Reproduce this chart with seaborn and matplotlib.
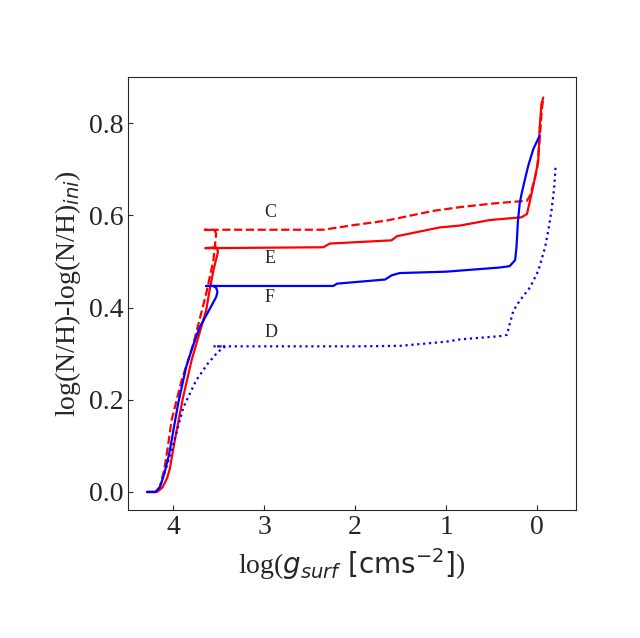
import numpy as np
import pandas as pd
import matplotlib
matplotlib.use("Agg")
import matplotlib.pyplot as plt
import seaborn as sns

# track C (red dashed)
c_logg = [4.29, 4.20, 4.15, 4.10, 4.06, 4.02, 3.91, 3.78, 3.64, 3.56, 3.53, 3.545, 3.655,
          2.35, 2.02, 1.65, 1.14, 0.956, 0.85, 0.48, 0.11, 0.076, 0.04, -0.004, -0.026, -0.053, -0.07]
c_nh = [0.0, 0.0, 0.01, 0.05, 0.10, 0.156, 0.242, 0.322, 0.43, 0.503, 0.56, 0.568, 0.569,
        0.569, 0.579, 0.589, 0.61, 0.615, 0.618, 0.626, 0.632, 0.643, 0.668, 0.704, 0.755, 0.827, 0.856]

# track E (red solid)
e_logg = [4.29, 4.18, 4.12, 4.07, 4.04, 3.985, 3.90, 3.80, 3.72, 3.64, 3.60, 3.56, 3.51, 3.52, 3.53,
          3.65, 3.00, 2.35, 2.28, 1.60, 1.54, 1.07, 0.85, 0.52, 0.17, 0.11, 0.076, 0.02, -0.015,
          -0.03, -0.05, -0.07]
e_nh = [0.0, 0.0, 0.01, 0.03, 0.05, 0.112, 0.20, 0.286, 0.34, 0.394, 0.44, 0.481, 0.521, 0.529, 0.531,
        0.529, 0.530, 0.531, 0.539, 0.546, 0.555, 0.574, 0.578, 0.59, 0.596, 0.603, 0.632, 0.683, 0.719,
        0.791, 0.842, 0.856]

# track F (blue solid)
f_logg = [4.29, 4.20, 4.15, 4.10, 4.05, 4.02, 3.95, 3.86, 3.78, 3.71, 3.62, 3.53, 3.515, 3.53, 3.56, 3.64,
          3.30, 2.24, 2.20, 1.67, 1.60, 1.51, 1.00, 0.41, 0.30, 0.24, 0.225, 0.21, 0.19, 0.17, 0.13, 0.095,
          0.04, -0.03]
f_nh = [0.0, 0.0, 0.01, 0.04, 0.08, 0.112, 0.19, 0.271, 0.32, 0.358, 0.39, 0.423, 0.434, 0.443, 0.447, 0.447,
        0.447, 0.447, 0.452, 0.461, 0.470, 0.475, 0.478, 0.487, 0.49, 0.503, 0.531, 0.585, 0.625, 0.646, 0.68, 0.708,
        0.744, 0.773]

# track D (blue dotted)
d_logg = [4.29, 4.20, 4.15, 4.10, 4.02, 3.89, 3.75, 3.62, 3.51, 3.43, 3.56, 3.00, 2.00, 1.51,
          1.00, 0.85, 0.41, 0.33, 0.30, 0.26, 0.19, 0.076, -0.015, -0.09, -0.125, -0.16, -0.19, -0.205]
d_nh = [0.0, 0.0, 0.01, 0.04, 0.09, 0.184, 0.242, 0.279, 0.304, 0.316, 0.316, 0.316, 0.316, 0.317,
        0.326, 0.331, 0.338, 0.341, 0.364, 0.393, 0.415, 0.444, 0.48, 0.531, 0.567, 0.61, 0.661, 0.704]

labels = ["C", "E", "F", "D"]
label_y = [0.596, 0.496, 0.413, 0.336]

sns.set_style("ticks")
plt.rcParams["font.family"] = ["Liberation Serif", "DejaVu Serif"]
plt.rcParams["mathtext.fontset"] = "dejavusans"

fig, ax = plt.subplots(figsize=(6.4, 6.38), dpi=100)
fig.subplots_adjust(left=0.2, right=0.9, bottom=0.2, top=0.879)

tracks = [
    (c_logg, c_nh, "red", "--"),
    (e_logg, e_nh, "red", "-"),
    (f_logg, f_nh, "blue", "-"),
    (d_logg, d_nh, "blue", ":"),
]
for xs, ys, col, ls in tracks:
    df = pd.DataFrame({"logg": xs, "nh": ys})
    sns.lineplot(data=df, x="logg", y="nh", sort=False, estimator=None,
                 color=col, linestyle=ls, linewidth=1.6, ax=ax)

for lab, yy in zip(labels, label_y):
    ax.text(3.0, yy, lab, fontsize=13, ha="left", va="baseline")

ax.set_xlim(4.5, -0.43)
ax.set_ylim(-0.04, 0.9)
ax.set_xticks([4, 3, 2, 1, 0])
ax.set_yticks([0.0, 0.2, 0.4, 0.6, 0.8])
ax.tick_params(direction="in", labelsize=20, top=False, right=False)
ax.set_xlabel(r"log($g_{surf}\ [\mathrm{cms}^{-2}]$)", fontsize=20)
ax.set_ylabel(r"log(N/H)-log(N/H)$_{ini}$)", fontsize=20)
for s in ax.spines.values():
    s.set_linewidth(0.8)

fig.savefig("out.png", dpi=100)
